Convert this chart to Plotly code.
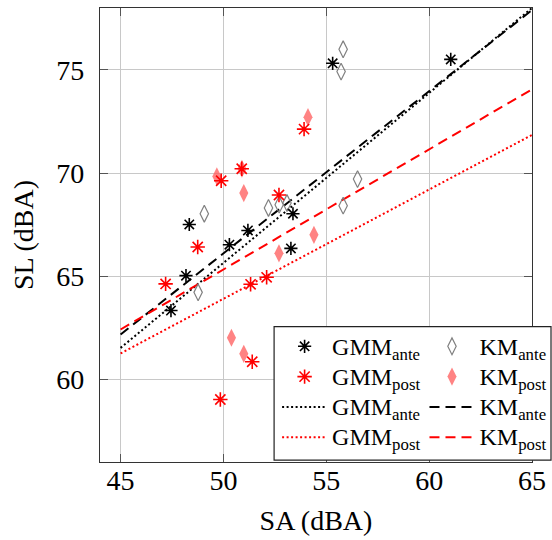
import plotly.graph_objects as go

# ---- data ----
gmm_ante_x = [48.34, 51.19, 50.29, 48.18, 47.45, 53.38, 53.28, 55.31, 61.05]
gmm_ante_y = [67.51, 67.22, 66.53, 65.03, 63.34, 68.03, 66.35, 75.32, 75.51]

gmm_post_x = [53.92, 49.89, 52.70, 48.75, 47.19, 51.32, 52.10, 51.40, 49.85, 50.89]
gmm_post_y = [72.13, 69.63, 68.94, 66.42, 64.63, 64.61, 64.95, 60.86, 59.03, 70.21]

km_ante_x = [55.82, 55.72, 56.52, 55.82, 52.19, 52.71, 53.09, 49.07, 48.77]
km_ante_y = [76.00, 74.92, 69.71, 68.42, 68.31, 68.47, 68.55, 68.03, 64.22]

km_post_x = [54.11, 49.68, 50.90, 50.99, 54.40, 52.70, 50.39, 50.99]
km_post_y = [72.71, 69.84, 70.21, 69.03, 67.01, 66.11, 62.02, 61.24]

line_x = [45, 65]
gmm_ante_fit = [61.53, 78.00]
km_ante_fit = [62.18, 77.90]
gmm_post_fit = [61.26, 71.85]
km_post_fit = [62.42, 74.06]

x_ticks = [45, 50, 55, 60, 65]
y_ticks = [60, 65, 70, 75]

FONT = "Liberation Serif, Times New Roman, Times, serif"


def lab(main, sub):
    return '<span style="font-size:24px">%s<sub>%s</sub></span>' % (main, sub)


lab_gmm_ante = lab("GMM", "ante")
lab_gmm_post = lab("GMM", "post")
lab_km_ante = lab("KM", "ante")
lab_km_post = lab("KM", "post")

fig = go.Figure()

# lines first (drawn beneath markers)
fig.add_trace(go.Scatter(x=line_x, y=gmm_ante_fit, mode="lines", name=lab_gmm_ante,
                         line=dict(color="black", width=2, dash="2px,2.5px"), legend="legend",
                         legendrank=3))
fig.add_trace(go.Scatter(x=line_x, y=gmm_post_fit, mode="lines", name=lab_gmm_post,
                         line=dict(color="#ff0000", width=2, dash="2px,2.5px"), legend="legend",
                         legendrank=4))
fig.add_trace(go.Scatter(x=line_x, y=km_ante_fit, mode="lines", name=lab_km_ante,
                         line=dict(color="black", width=2, dash="10px,6px"), legend="legend2",
                         legendrank=3))
fig.add_trace(go.Scatter(x=line_x, y=km_post_fit, mode="lines", name=lab_km_post,
                         line=dict(color="#ff0000", width=2, dash="10px,6px"), legend="legend2",
                         legendrank=4))

fig.add_trace(go.Scatter(x=km_ante_x, y=km_ante_y, mode="markers", name=lab_km_ante,
                         marker=dict(symbol="diamond-tall-open", size=12, color="#808080",
                                     line=dict(width=1.2, color="#808080")),
                         legend="legend2", legendrank=1))
fig.add_trace(go.Scatter(x=km_post_x, y=km_post_y, mode="markers", name=lab_km_post,
                         marker=dict(symbol="diamond-tall", size=13, color="rgba(255,90,90,0.75)",
                                     line=dict(width=0)),
                         legend="legend2", legendrank=2))
fig.add_trace(go.Scatter(x=gmm_ante_x, y=gmm_ante_y, mode="markers", name=lab_gmm_ante,
                         marker=dict(symbol="asterisk-open", size=11, color="black",
                                     line=dict(width=1.6, color="black")),
                         legend="legend", legendrank=1))
fig.add_trace(go.Scatter(x=gmm_post_x, y=gmm_post_y, mode="markers", name=lab_gmm_post,
                         marker=dict(symbol="asterisk-open", size=12, color="#ff0000",
                                     line=dict(width=1.6, color="#ff0000")),
                         legend="legend", legendrank=2))

axis_common = dict(
    showgrid=True, gridcolor="#c8c8c8", gridwidth=1,
    showline=True, linecolor="#333333", linewidth=1.2, mirror="ticks",
    ticks="inside", ticklen=8, tickcolor="#555555", tickwidth=1,
    zeroline=False, automargin=False,
    tickfont=dict(family=FONT, size=28, color="black"),
    title_font=dict(family=FONT, size=28, color="black"),
)

fig.update_layout(
    width=552, height=540,
    margin=dict(l=100, r=20, t=8, b=78, autoexpand=False),
    paper_bgcolor="white", plot_bgcolor="white",
    font=dict(family=FONT, size=24, color="black"),
    xaxis=dict(range=[44, 65], tickvals=x_ticks, ticklabelstandoff=-7,
               title=dict(text="SA (dBA)", standoff=15), **axis_common),
    yaxis=dict(range=[56, 78], tickvals=y_ticks, ticklabelstandoff=9,
               title=dict(text="SL (dBA)", standoff=14), **axis_common),
    legend=dict(xref="container", yref="container", x=0.502, y=0.396,
                xanchor="left", yanchor="top", bgcolor="rgba(0,0,0,0)",
                borderwidth=0, tracegroupgap=0, itemwidth=45,
                font=dict(family=FONT, size=21, color="black"), traceorder="normal"),
    legend2=dict(xref="container", yref="container", x=0.769, y=0.396,
                 xanchor="left", yanchor="top", bgcolor="rgba(0,0,0,0)",
                 borderwidth=0, tracegroupgap=0, itemwidth=45,
                 font=dict(family=FONT, size=21, color="black"), traceorder="normal"),
    shapes=[dict(type="rect", xref="paper", yref="paper", x0=0.403, x1=1.044, y0=0.004, y1=0.298,
                 fillcolor="white", line=dict(color="#222222", width=1.2), layer="above")],
)

fig.write_html("out.html")
